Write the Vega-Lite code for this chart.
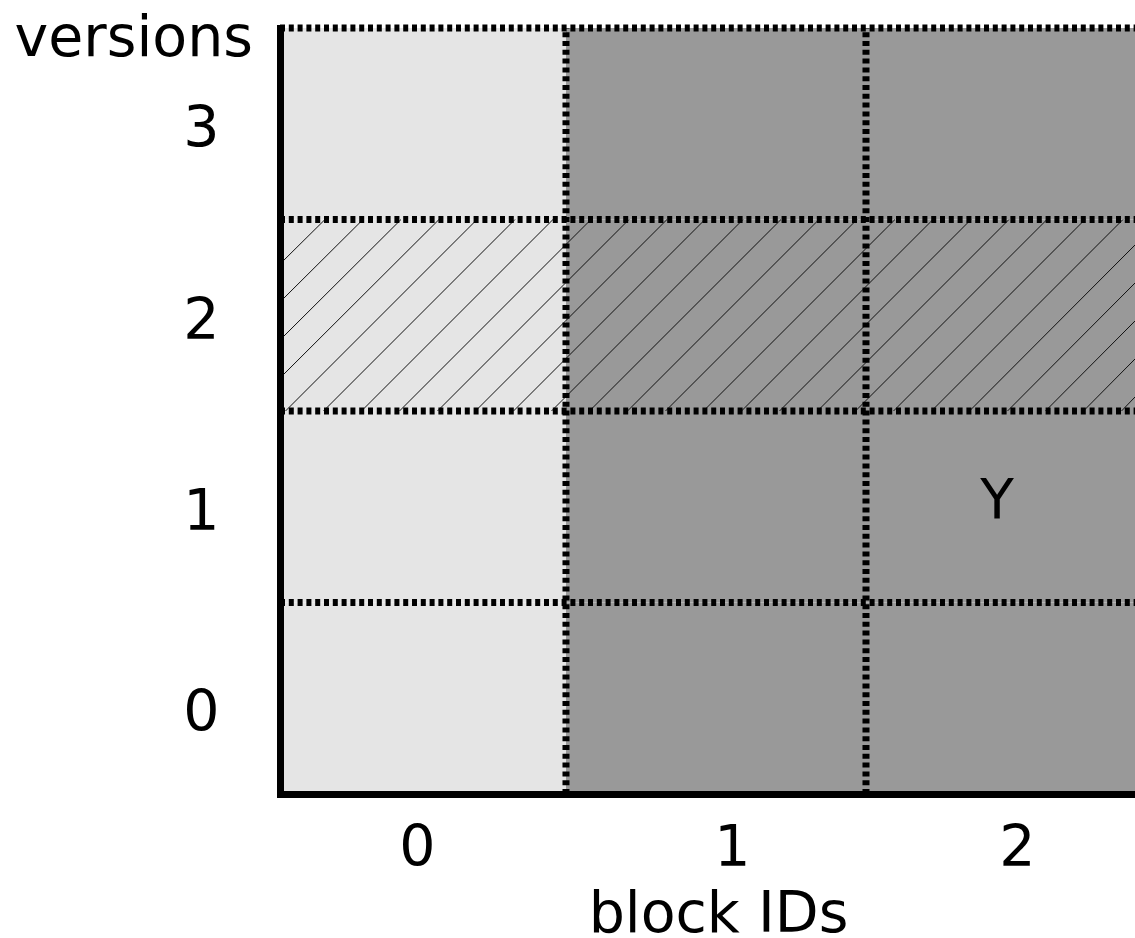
{
  "$schema": "https://vega.github.io/schema/vega-lite/v6.json",
  "width": 855,
  "height": 766,
  "autosize": {"type": "none"},
  "padding": {"left": 280, "top": 28, "right": 0, "bottom": 144},
  "background": "white",
  "config": {
    "view": {"stroke": null},
    "font": "DejaVu Sans"
  },
  "datasets": {
    "cells": [
      {"x0": -0.5, "x1": 0.5, "y0": -0.5, "y1": 0.5, "state": "light"},
      {"x0": -0.5, "x1": 0.5, "y0": 0.5, "y1": 1.5, "state": "light"},
      {"x0": -0.5, "x1": 0.5, "y0": 1.5, "y1": 2.5, "state": "light"},
      {"x0": -0.5, "x1": 0.5, "y0": 2.5, "y1": 3.5, "state": "light"},
      {"x0": 0.5, "x1": 1.5, "y0": -0.5, "y1": 0.5, "state": "dark"},
      {"x0": 0.5, "x1": 1.5, "y0": 0.5, "y1": 1.5, "state": "dark"},
      {"x0": 0.5, "x1": 1.5, "y0": 1.5, "y1": 2.5, "state": "dark"},
      {"x0": 0.5, "x1": 1.5, "y0": 2.5, "y1": 3.5, "state": "dark"},
      {"x0": 1.5, "x1": 2.5, "y0": -0.5, "y1": 0.5, "state": "dark"},
      {"x0": 1.5, "x1": 2.5, "y0": 0.5, "y1": 1.5, "state": "dark"},
      {"x0": 1.5, "x1": 2.5, "y0": 1.5, "y1": 2.5, "state": "dark"},
      {"x0": 1.5, "x1": 2.5, "y0": 2.5, "y1": 3.5, "state": "dark"}
    ],
    "hatch": [
      {"hx": -0.4533, "hy": 2.2676, "hx2": -0.3033, "hy2": 2.5},
      {"hx": -0.4533, "hy": 2.0692, "hx2": -0.1767, "hy2": 2.5},
      {"hx": -0.4533, "hy": 1.8708, "hx2": -0.05, "hy2": 2.5},
      {"hx": -0.4533, "hy": 1.6723, "hx2": 0.0767, "hy2": 2.5},
      {"hx": -0.435, "hy": 1.5, "hx2": 0.2033, "hy2": 2.5},
      {"hx": -0.3083, "hy": 1.5, "hx2": 0.33, "hy2": 2.5},
      {"hx": -0.1817, "hy": 1.5, "hx2": 0.4567, "hy2": 2.5},
      {"hx": -0.055, "hy": 1.5, "hx2": 0.5833, "hy2": 2.5},
      {"hx": 0.0717, "hy": 1.5, "hx2": 0.71, "hy2": 2.5},
      {"hx": 0.1983, "hy": 1.5, "hx2": 0.8367, "hy2": 2.5},
      {"hx": 0.325, "hy": 1.5, "hx2": 0.9633, "hy2": 2.5},
      {"hx": 0.4517, "hy": 1.5, "hx2": 1.09, "hy2": 2.5},
      {"hx": 0.5783, "hy": 1.5, "hx2": 1.2167, "hy2": 2.5},
      {"hx": 0.705, "hy": 1.5, "hx2": 1.3433, "hy2": 2.5},
      {"hx": 0.8317, "hy": 1.5, "hx2": 1.47, "hy2": 2.5},
      {"hx": 0.9583, "hy": 1.5, "hx2": 1.5967, "hy2": 2.5},
      {"hx": 1.085, "hy": 1.5, "hx2": 1.7233, "hy2": 2.5},
      {"hx": 1.2117, "hy": 1.5, "hx2": 1.85, "hy2": 2.5},
      {"hx": 1.3383, "hy": 1.5, "hx2": 1.9767, "hy2": 2.5},
      {"hx": 1.465, "hy": 1.5, "hx2": 2.1033, "hy2": 2.5},
      {"hx": 1.5917, "hy": 1.5, "hx2": 2.23, "hy2": 2.5},
      {"hx": 1.7183, "hy": 1.5, "hx2": 2.3567, "hy2": 2.5},
      {"hx": 1.845, "hy": 1.5, "hx2": 2.3967, "hy2": 2.3668},
      {"hx": 1.9717, "hy": 1.5, "hx2": 2.3967, "hy2": 2.1684},
      {"hx": 2.0983, "hy": 1.5, "hx2": 2.3967, "hy2": 1.97},
      {"hx": 2.225, "hy": 1.5, "hx2": 2.3967, "hy2": 1.7715},
      {"hx": 2.3517, "hy": 1.5, "hx2": 2.3967, "hy2": 1.5731}
    ],
    "borders": [
      {"bx": -0.4533, "bx2": 2.3967, "by": 0.5, "by2": 0.5},
      {"bx": -0.4533, "bx2": 2.3967, "by": 1.5, "by2": 1.5},
      {"bx": -0.4533, "bx2": 2.3967, "by": 2.5, "by2": 2.5},
      {"bx": -0.4533, "bx2": 2.3967, "by": 3.5, "by2": 3.5},
      {"bx": 0.5, "bx2": 0.5, "by": -0.5, "by2": 3.5},
      {"bx": 1.5, "bx2": 1.5, "by": -0.5, "by2": 3.5}
    ],
    "labels": [
      {"lx": 2, "ly": 1, "text": "Y"}
    ]
  },
  "layer": [
    {
      "data": {"name": "cells"},
      "mark": {"type": "rect", "clip": true, "strokeWidth": 0},
      "encoding": {
        "x": {
          "field": "x0", "type": "quantitative",
          "scale": {"domain": [-0.4533, 2.3967], "nice": false, "zero": false},
          "axis": {
            "title": "block IDs",
            "values": [0, 1, 2],
            "format": "d",
            "grid": false,
            "ticks": false,
            "tickSize": 0,
            "domainColor": "black",
            "domainWidth": 7,
            "domainCap": "square",
            "labelFont": "DejaVu Sans",
            "labelFontSize": 57,
            "labelColor": "black",
            "labelBaseline": "alphabetic",
            "labelPadding": 71,
            "labelOffset": {"condition": {"test": "datum.value == 1", "value": 16}, "value": 1},
            "labelFlush": false,
            "labelOverlap": false,
            "titleFont": "DejaVu Sans",
            "titleFontSize": 57,
            "titleFontWeight": "normal",
            "titleColor": "black",
            "titleAlign": "center",
            "titleBaseline": "alphabetic",
            "titleX": 438,
            "titleY": 137,
            "zindex": 2
          }
        },
        "x2": {"field": "x1"},
        "y": {
          "field": "y0", "type": "quantitative",
          "scale": {"domain": [-0.5, 3.5], "nice": false, "zero": false},
          "axis": {
            "title": "versions",
            "values": [0, 1, 2, 3],
            "format": "d",
            "grid": false,
            "ticks": false,
            "tickSize": 0,
            "domainColor": "black",
            "domainWidth": 7,
            "domainCap": "square",
            "labelFont": "DejaVu Sans",
            "labelFontSize": 57,
            "labelColor": "black",
            "labelBaseline": "alphabetic",
            "labelAlign": "right",
            "labelPadding": 61,
            "labelOffset": {"condition": {"test": "datum.value == 0", "value": 32}, "value": 23},
            "labelFlush": false,
            "labelOverlap": false,
            "titleFont": "DejaVu Sans",
            "titleFontSize": 57,
            "titleFontWeight": "normal",
            "titleColor": "black",
            "titleAngle": 0,
            "titleAlign": "left",
            "titleBaseline": "alphabetic",
            "titleX": -266,
            "titleY": 27,
            "zindex": 2
          }
        },
        "y2": {"field": "y1"},
        "fill": {
          "field": "state", "type": "nominal",
          "scale": {"domain": ["light", "dark"], "range": ["#e5e5e5", "#999999"]},
          "legend": null
        }
      }
    },
    {
      "data": {"name": "hatch"},
      "mark": {"type": "rule", "color": "#111111", "strokeWidth": 1, "clip": true},
      "encoding": {
        "x": {"field": "hx", "type": "quantitative"},
        "x2": {"field": "hx2"},
        "y": {"field": "hy", "type": "quantitative"},
        "y2": {"field": "hy2"}
      }
    },
    {
      "data": {"name": "borders"},
      "mark": {"type": "rule", "color": "black", "strokeWidth": 7, "strokeDash": [5, 3.8], "strokeCap": "butt"},
      "encoding": {
        "x": {"field": "bx", "type": "quantitative"},
        "x2": {"field": "bx2"},
        "y": {"field": "by", "type": "quantitative"},
        "y2": {"field": "by2"}
      }
    },
    {
      "data": {"name": "labels"},
      "mark": {"type": "text", "font": "DejaVu Sans", "fontSize": 55, "color": "black", "align": "center", "baseline": "alphabetic", "dx": -19, "dy": 11},
      "encoding": {
        "x": {"field": "lx", "type": "quantitative"},
        "y": {"field": "ly", "type": "quantitative"},
        "text": {"field": "text"}
      }
    }
  ]
}
